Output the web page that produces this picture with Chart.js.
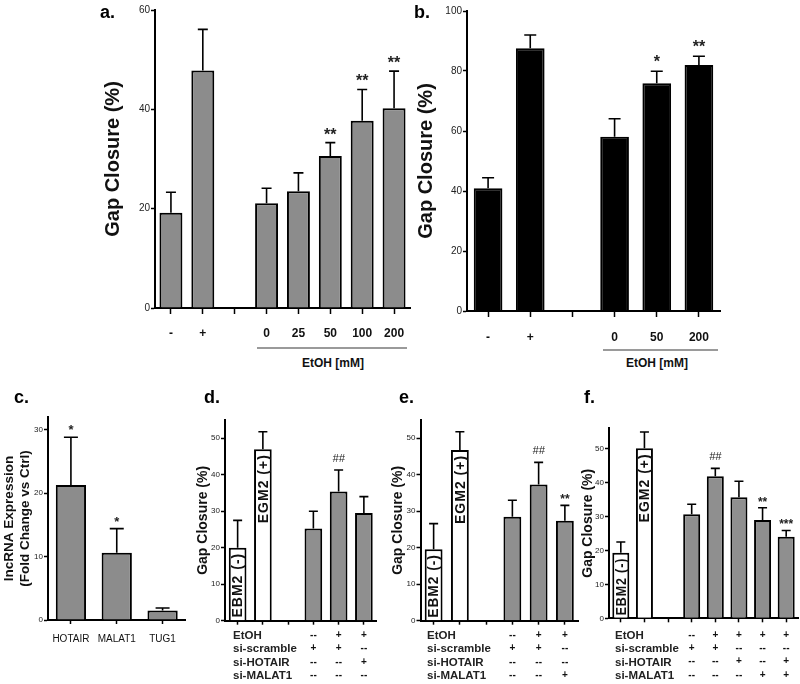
<!DOCTYPE html>
<html>
<head>
<meta charset="utf-8">
<script src="https://cdn.jsdelivr.net/npm/chart.js@4.4.1/dist/chart.umd.min.js"></script>
<style>
  html, body { margin: 0; padding: 0; background: #fff; }
  #fig { position: relative; width: 800px; height: 684px; overflow: hidden;
         font-family: 'Liberation Sans', Arial, sans-serif; }
  canvas { position: absolute; }
  .txt { position: absolute; font-weight: bold; color: #111; white-space: nowrap; }
  .letter { font-size: 18px; line-height: 18px; color: #000; }
  .grp { font-size: 12px; line-height: 14px; width: 120px; text-align: center; }
  .bar-line { position: absolute; height: 2px; background: #9a9a9a; }
  .rows { font-size: 11.5px; line-height: 13.3px; color: #222; }
</style>
</head>
<body>
<div id="fig">
  <canvas id="chartA" width="320" height="345" style="left:95px;top:0px"></canvas>
  <canvas id="chartB" width="315" height="348" style="left:412px;top:0px"></canvas>
  <canvas id="chartC" width="195" height="270" style="left:0px;top:380px"></canvas>
  <canvas id="chartD" width="190" height="304" style="left:193px;top:380px"></canvas>
  <canvas id="chartE" width="197" height="304" style="left:388px;top:380px"></canvas>
  <canvas id="chartF" width="222" height="304" style="left:578px;top:380px"></canvas>

  <div class="txt letter" style="left:100px;top:3px">a.</div>
  <div class="txt letter" style="left:414px;top:3px">b.</div>
  <div class="txt letter" style="left:14px;top:388px">c.</div>
  <div class="txt letter" style="left:204px;top:388px">d.</div>
  <div class="txt letter" style="left:399px;top:388px">e.</div>
  <div class="txt letter" style="left:584px;top:388px">f.</div>

  <div class="bar-line" style="left:257px;top:347px;width:150px"></div>
  <div class="txt grp" style="left:273px;top:356px">EtOH [mM]</div>
  <div class="bar-line" style="left:603px;top:349px;width:115px"></div>
  <div class="txt grp" style="left:597px;top:356px">EtOH [mM]</div>

  <div class="txt rows" style="left:233px;top:629px">EtOH<br>si-scramble<br>si-HOTAIR<br>si-MALAT1</div>
  <div class="txt rows" style="left:427px;top:629px">EtOH<br>si-scramble<br>si-HOTAIR<br>si-MALAT1</div>
  <div class="txt rows" style="left:615px;top:629px">EtOH<br>si-scramble<br>si-HOTAIR<br>si-MALAT1</div>
</div>
<script>
const FONT = "'Liberation Sans', Arial, sans-serif";
Chart.defaults.font.family = FONT;

// a. HUVEC gap closure, EtOH dose
const aLabels = ['-', '+', '', '0', '25', '50', '100', '200'];
const aMeans = [19.2, 47.8, null, 21.1, 23.5, 30.6, 37.7, 40.2];
const aErr = [4.1, 8.3, null, 3.0, 3.7, 2.7, 6.3, 7.5];
const aSig = ['', '', '', '', '', '**', '**', '**'];

// b.
const bLabels = ['-', '+', '', '0', '50', '200'];
const bMeans = [40.9, 87.6, null, 58.1, 75.9, 82.0];
const bErr = [3.5, 4.4, null, 6.0, 4.0, 2.9];
const bSig = ['', '', '', '', '*', '**'];

// c. lncRNA expression
const cLabels = ['HOTAIR', 'MALAT1', 'TUG1'];
const cMeans = [21.3, 10.6, 1.5];
const cErr = [7.5, 3.8, 0.4];
const cSig = ['*', '*', ''];

// d. si-HOTAIR
const dInner = ['EBM2 (-)', 'EGM2 (+)', '', '', '', ''];
const dMeans = [20.0, 47.0, null, 25.3, 35.4, 29.5];
const dErr = [7.5, 4.8, null, 4.7, 5.9, 4.5];
const dSig = ['', '', '', '', '##', ''];
const dEtoh = ['', '', '', '--', '+', '+'];
const dScr = ['', '', '', '+', '+', '--'];
const dHot = ['', '', '', '--', '--', '+'];
const dMal = ['', '', '', '--', '--', '--'];

// e. si-MALAT1
const eInner = ['EBM2 (-)', 'EGM2 (+)', '', '', '', ''];
const eMeans = [19.6, 46.8, null, 28.5, 37.3, 27.4];
const eErr = [7.0, 5.0, null, 4.5, 6.1, 4.2];
const eSig = ['', '', '', '', '##', '**'];
const eEtoh = ['', '', '', '--', '+', '+'];
const eScr = ['', '', '', '+', '+', '--'];
const eHot = ['', '', '', '--', '--', '--'];
const eMal = ['', '', '', '--', '--', '+'];

// f. combined knockdown
const fInner = ['EBM2 (-)', 'EGM2 (+)', '', '', '', '', '', ''];
const fMeans = [19.3, 50.1, null, 30.7, 41.9, 35.7, 29.0, 24.0];
const fErr = [3.2, 4.8, null, 2.9, 2.3, 4.7, 3.6, 1.9];
const fSig = ['', '', '', '', '##', '', '**', '***'];
const fEtoh = ['', '', '', '--', '+', '+', '+', '+'];
const fScr = ['', '', '', '+', '+', '--', '--', '--'];
const fHot = ['', '', '', '--', '--', '+', '--', '+'];
const fMal = ['', '', '', '--', '--', '--', '+', '+'];

// error bars, significance marks and the rotated labels inside the white bars
const barMarks = {
  id: 'barMarks',
  afterDatasetsDraw(chart) {
    const ds = chart.data.datasets[0];
    const meta = chart.getDatasetMeta(0);
    const y = chart.scales.y;
    const ctx = chart.ctx;
    ctx.save();
    ds.data.forEach((v, i) => {
      if (v === null) return;
      const bar = meta.data[i];
      const base = y.getPixelForValue(v);
      const top = y.getPixelForValue(v + ds.errs[i]);
      ctx.strokeStyle = '#000';
      ctx.lineWidth = 1.6;
      ctx.beginPath();
      ctx.moveTo(bar.x, base);
      ctx.lineTo(bar.x, top);
      ctx.moveTo(bar.x - ds.cap / 2, top);
      ctx.lineTo(bar.x + ds.cap / 2, top);
      ctx.stroke();
      if (ds.sig && ds.sig[i]) {
        const s = ds.sig[i];
        ctx.fillStyle = '#222';
        ctx.textAlign = 'center';
        ctx.textBaseline = 'alphabetic';
        if (s[0] === '#') {
          ctx.font = 'italic 11px ' + FONT;
          ctx.fillText(s, bar.x, top - 8);
        } else {
          ctx.font = ds.sigFont;
          ctx.fillText(s, bar.x, top - ds.sigGap);
        }
      }
      if (ds.inner && ds.inner[i]) {
        const room = y.getPixelForValue(0) - base - 8;
        ctx.save();
        ctx.translate(bar.x + 1, base + 5);
        ctx.rotate(-Math.PI / 2);
        ctx.font = 'bold 14px ' + FONT;
        ctx.letterSpacing = '1px';
        ctx.fillStyle = '#111';
        ctx.textAlign = 'right';
        ctx.textBaseline = 'middle';
        ctx.fillText(ds.inner[i], 0, 0, room);
        ctx.restore();
      }
    });
    ctx.restore();
  }
};

function panel(id, labels, means, g) {
  return new Chart(document.getElementById(id), {
    type: 'bar',
    data: {
      labels: labels,
      datasets: [{
        data: means,
        errs: g.errs,
        sig: g.sig,
        inner: g.inner,
        cap: g.cap,
        sigFont: g.sigFont,
        sigGap: g.sigGap,
        backgroundColor: g.colors,
        borderColor: '#000',
        borderWidth: 2,
        barPercentage: g.bp,
        categoryPercentage: 1
      }]
    },
    options: {
      responsive: false,
      animation: false,
      events: [],
      layout: { padding: { left: 0, bottom: 0, top: g.padTop, right: g.padRight } },
      plugins: { legend: { display: false }, tooltip: { enabled: false } },
      scales: {
        x: {
          grid: { offset: false, drawOnChartArea: false, drawTicks: true, tickLength: g.xTick, tickColor: '#000', tickWidth: 1.5 },
          border: { color: '#000', width: 2 },
          ticks: {
            autoSkip: false, maxRotation: 0, minRotation: 0,
            font: g.xFont, color: '#111', padding: g.xPad,
            callback: g.xCb
          },
          afterFit: s => { s.height = g.xH; s.paddingLeft = 0; s.paddingRight = 0; }
        },
        y: {
          min: 0,
          max: g.max,
          grid: { drawOnChartArea: false, drawTicks: true, tickLength: 4, tickColor: '#000', tickWidth: 1.5 },
          border: { color: '#000', width: 2 },
          ticks: { stepSize: g.step, font: { size: g.yTickSize }, color: '#222', padding: 1 },
          afterBuildTicks: s => { s.ticks = s.ticks.filter(t => t.value % g.step === 0); },
          afterFit: s => { s.width = g.yW; s.paddingTop = 0; s.paddingBottom = 0; },
          title: {
            display: true, text: g.title, color: '#111',
            font: g.titleFont, padding: { top: g.titlePad, bottom: 0 }
          }
        }
      }
    },
    plugins: [barMarks]
  });
}

const gray = n => Array.from({ length: n }, () => '#8c8c8c');
const mixed = n => Array.from({ length: n }, (_, i) => i < 2 ? '#ffffff' : '#8f8f8f');
const rowsOf = (a, b, c, d) => (v, i) => [a[i], b[i], c[i], d[i]];
const plain = labels => (v, i) => labels[i];

panel('chartA', aLabels, aMeans, {
  errs: aErr, sig: aSig, cap: 10, sigFont: 'bold 16px ' + FONT, sigGap: 3,
  colors: gray(8), bp: 0.72, padTop: 10, padRight: 5,
  xTick: 6, xPad: 12, xH: 37, xFont: { size: 12, weight: 'bold' }, xCb: plain(aLabels),
  max: 60, step: 20, yTickSize: 10, yW: 60,
  title: 'Gap Closure (%)', titleFont: { size: 20, weight: 'bold', lineHeight: 1.2 }, titlePad: 6
});

panel('chartB', bLabels, bMeans, {
  errs: bErr, sig: bSig, cap: 12, sigFont: 'bold 16px ' + FONT, sigGap: 4,
  colors: Array.from({ length: 6 }, () => '#000000'), bp: 0.68, padTop: 11, padRight: 7,
  xTick: 6, xPad: 13, xH: 37, xFont: { size: 12, weight: 'bold' }, xCb: plain(bLabels),
  max: 100, step: 20, yTickSize: 10, yW: 55,
  title: 'Gap Closure (%)', titleFont: { size: 20, weight: 'bold', lineHeight: 1.2 }, titlePad: 2
});

panel('chartC', cLabels, cMeans, {
  errs: cErr, sig: cSig, cap: 14, sigFont: 'bold 13px ' + FONT, sigGap: 3,
  colors: gray(3), bp: 0.66, padTop: 37, padRight: 9.5,
  xTick: 4, xPad: 9, xH: 30, xFont: { size: 10 }, xCb: plain(cLabels),
  max: 32, step: 10, yTickSize: 8, yW: 48,
  title: ['lncRNA Expression', '(Fold Change vs Ctrl)'],
  titleFont: { size: 13.5, weight: 'bold', lineHeight: 1.15 }, titlePad: 2
});

panel('chartD', dInner.map(() => ''), dMeans, {
  errs: dErr, sig: dSig, inner: dInner, cap: 9, sigFont: 'bold 12px ' + FONT, sigGap: 2,
  colors: mixed(6), bp: 0.7, padTop: 40, padRight: 6.5,
  xTick: 4, xPad: 4, xH: 63.3, xFont: { size: 10, weight: 'bold', lineHeight: 1.33 },
  xCb: rowsOf(dEtoh, dScr, dHot, dMal),
  max: 55, step: 10, yTickSize: 8, yW: 32,
  title: 'Gap Closure (%)', titleFont: { size: 14, weight: 'bold', lineHeight: 1.2 }, titlePad: 1.6
});

panel('chartE', eInner.map(() => ''), eMeans, {
  errs: eErr, sig: eSig, inner: eInner, cap: 9, sigFont: 'bold 12px ' + FONT, sigGap: 2,
  colors: mixed(6), bp: 0.68, padTop: 40, padRight: 7,
  xTick: 4, xPad: 4, xH: 63.3, xFont: { size: 10, weight: 'bold', lineHeight: 1.33 },
  xCb: rowsOf(eEtoh, eScr, eHot, eMal),
  max: 55, step: 10, yTickSize: 8, yW: 32.5,
  title: 'Gap Closure (%)', titleFont: { size: 14, weight: 'bold', lineHeight: 1.2 }, titlePad: 1.6
});

panel('chartF', fInner.map(() => ''), fMeans, {
  errs: fErr, sig: fSig, inner: fInner, cap: 9, sigFont: 'bold 12px ' + FONT, sigGap: 2,
  colors: mixed(8), bp: 0.72, padTop: 48.3, padRight: 2,
  xTick: 4, xPad: 6, xH: 65.7, xFont: { size: 10, weight: 'bold', lineHeight: 1.33 },
  xCb: rowsOf(fEtoh, fScr, fHot, fMal),
  max: 56, step: 10, yTickSize: 8, yW: 31,
  title: 'Gap Closure (%)', titleFont: { size: 14, weight: 'bold', lineHeight: 1.2 }, titlePad: 1.6
});
</script>
</body>
</html>
